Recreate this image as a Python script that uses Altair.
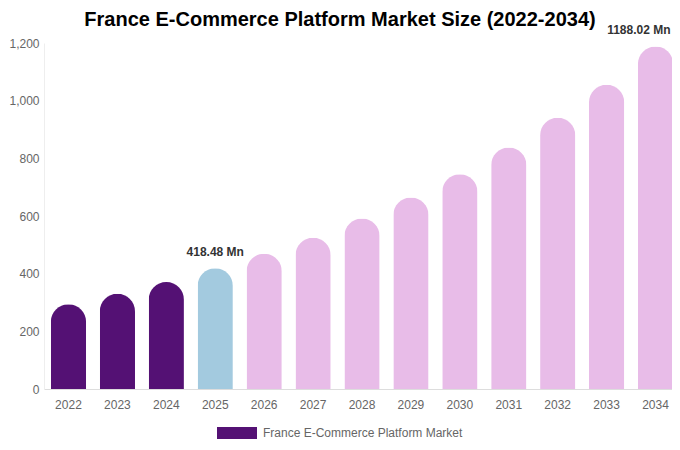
import altair as alt
import pandas as pd

years = ["2022", "2023", "2024", "2025", "2026", "2027", "2028", "2029", "2030", "2031", "2032", "2033", "2034"]
values = [294, 330, 371, 418.48, 469, 525, 591, 664, 745, 838, 941, 1055, 1188.02]
kinds = ["France E-Commerce Platform Market"] * 3 + ["Base Year"] + ["Forecast"] * 9
label_years = ["2025", "2034"]
label_texts = ["418.48 Mn", "1188.02 Mn"]

df = pd.DataFrame({"year": years, "value": values, "kind": kinds})
df["label"] = [label_texts[label_years.index(y)] if y in label_years else "" for y in years]

xscale = alt.Scale(paddingInner=0.28, paddingOuter=0.14, range=[0, 636])
x = alt.X("year:N", title=None, sort=years, scale=xscale,
          axis=alt.Axis(labelAngle=0, labelColor="#666666", labelFontSize=12,
                        labelFont="Liberation Sans", ticks=False, labelPadding=10,
                        domainColor="#dddddd"))
y = alt.Y("value:Q", title=None,
          scale=alt.Scale(domain=[0, 1200]),
          axis=alt.Axis(values=[0, 200, 400, 600, 800, 1000, 1200], grid=False,
                        labelColor="#666666", labelFontSize=12, labelFont="Liberation Sans",
                        ticks=False, labelPadding=5, domainColor="#eeeeee", format=",.0f"))

bars = alt.Chart(df).mark_bar(cornerRadiusTopLeft=17.5, cornerRadiusTopRight=17.5).encode(
    x=x, y=y,
    color=alt.Color("kind:N",
                    scale=alt.Scale(domain=["France E-Commerce Platform Market", "Base Year", "Forecast"],
                                    range=["#541174", "#A3CADF", "#E8BCE8"]),
                    legend=alt.Legend(title=None, values=["France E-Commerce Platform Market"],
                                      orient="none", legendX=173, legendY=370,
                                      symbolType="M-1,-0.3H1V0.3H-1Z", symbolSize=1600,
                                      symbolStrokeWidth=0, labelFontSize=12, labelColor="#666666",
                                      labelFont="Liberation Sans", padding=0, labelOffset=6,
                                      labelLimit=400))
)

text_style = dict(fontSize=12, fontWeight="bold", color="#333333", font="Liberation Sans")
labels_mid = alt.Chart(df).transform_filter("datum.year == '2025'").mark_text(
    dy=-16, **text_style
).encode(x=alt.X("year:N", sort=years, scale=xscale), y="value:Q", text="label:N")
labels_end = alt.Chart(df).transform_filter("datum.year == '2034'").mark_text(
    dy=-16, dx=15, align="right", **text_style
).encode(x=alt.X("year:N", sort=years, scale=xscale), y="value:Q", text="label:N")

chart = (bars + labels_mid + labels_end).properties(
    width=628, height=346,
    autosize=alt.AutoSizeParams(type="none"),
    padding={"left": 36, "top": 35, "right": 0, "bottom": 52},
    title=alt.TitleParams("France E-Commerce Platform Market Size (2022-2034)",
                          fontSize=20, fontWeight="bold", color="#000000",
                          font="Liberation Sans", dx=-18, offset=-6),
).configure_view(stroke=None)

chart.save("out.html", embed_options={"renderer": "svg", "actions": False})
